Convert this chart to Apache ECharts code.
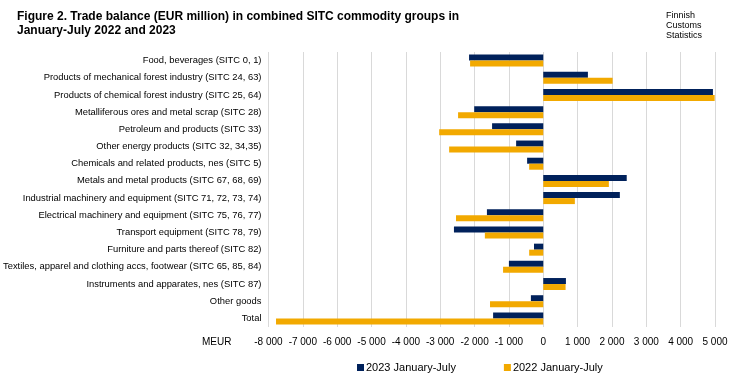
<!DOCTYPE html>
<html><head><meta charset="utf-8">
<script src="https://cdn.jsdelivr.net/npm/echarts@6/dist/echarts.min.js"></script>
<style>html,body{margin:0;padding:0;background:#fff}#c{width:737px;height:378px}</style>
</head><body><div id="c"></div>
<script>
const categories = [
  "Food, beverages (SITC 0, 1)",
  "Products of mechanical forest industry (SITC 24, 63)",
  "Products of chemical forest industry (SITC 25, 64)",
  "Metalliferous ores and metal scrap (SITC 28)",
  "Petroleum and products (SITC 33)",
  "Other energy products (SITC 32, 34,35)",
  "Chemicals and related products, nes (SITC 5)",
  "Metals and metal products (SITC 67, 68, 69)",
  "Industrial machinery and equipment (SITC 71, 72, 73, 74)",
  "Electrical machinery and equipment (SITC 75, 76, 77)",
  "Transport equipment (SITC 78, 79)",
  "Furniture and parts thereof (SITC 82)",
  "Textiles, apparel and clothing accs, footwear (SITC 65, 85, 84)",
  "Instruments and apparates, nes (SITC 87)",
  "Other goods",
  "Total"
];
const values2023 = [-2160, 1300, 4940, -2010, -1490, -790, -470, 2430, 2230, -1640, -2600, -270, -1000, 660, -360, -1460];
const values2022 = [-2130, 2020, 4990, -2480, -3030, -2740, -410, 1910, 920, -2540, -1700, -410, -1170, 650, -1550, -7780];
const seriesNames = ["2023 January-July", "2022 January-July"];
const xTicks = { min: -8000, max: 5000, interval: 1000 };

const chart = echarts.init(document.getElementById('c'), null, {renderer: 'canvas'});
const font = 'Liberation Sans, Arial, sans-serif';
chart.setOption({
  animation: false,
  textStyle: { fontFamily: font },
  title: [{
    text: 'Figure 2. Trade balance (EUR million) in combined SITC commodity groups in\nJanuary-July 2022 and 2023',
    left: 17, top: 10, padding: 0,
    textStyle: { fontSize: 12, fontWeight: 'bold', color: '#000', lineHeight: 14, fontFamily: font }
  }, {
    text: 'Finnish\nCustoms\nStatistics',
    left: 666, top: 11, padding: 0,
    textStyle: { fontSize: 9, fontWeight: 'normal', color: '#000', lineHeight: 10, fontFamily: font }
  }],
  legend: {
    data: seriesNames,
    left: 357, top: 362, padding: 0,
    itemWidth: 7, itemHeight: 7, itemGap: 48,
    icon: 'rect',
    textStyle: { fontSize: 11, color: '#000', padding: [0, 0, 0, -3] }
  },
  grid: { left: 268, right: 22, top: 52, bottom: 51, containLabel: false },
  xAxis: {
    type: 'value', min: xTicks.min, max: xTicks.max, interval: xTicks.interval,
    axisLine: { show: false }, axisTick: { show: false },
    splitLine: { show: true, lineStyle: { color: '#d9d9d9', width: 1 } },
    axisLabel: {
      fontSize: 10, color: '#000', margin: 10,
      formatter: v => { const s = Math.abs(v).toString().replace(/\B(?=(\d{3})+(?!\d))/g, ' '); return (v < 0 ? '-' : '') + s; }
    }
  },
  yAxis: {
    type: 'category', data: categories, inverse: true,
    axisLine: { show: false }, axisTick: { show: false },
    axisLabel: { fontSize: 9.4, color: '#000', margin: 7 }
  },
  graphic: [{
    type: 'text', left: 202, top: 337,
    style: { text: 'MEUR', fontSize: 10, fill: '#000', fontFamily: font }
  }],
  series: [{
    name: seriesNames[0], type: 'bar', data: values2023, barWidth: 6, barGap: '0%',
    itemStyle: { color: '#00215B' }
  }, {
    name: seriesNames[1], type: 'bar', data: values2022, barWidth: 6, barGap: '0%',
    itemStyle: { color: '#F2A900' }
  }]
});
</script></body></html>
